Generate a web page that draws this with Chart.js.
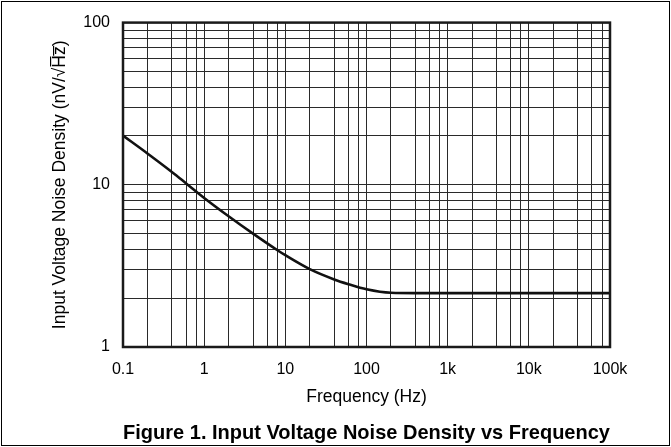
<!DOCTYPE html>
<html>
<head>
<meta charset="utf-8">
<script src="https://cdn.jsdelivr.net/npm/chart.js@4/dist/chart.umd.min.js"></script>
<style>
  html, body { margin: 0; padding: 0; background: #fff; }
  #wrap { width: 671px; height: 447px; position: relative; }
</style>
</head>
<body>
<div id="wrap"><canvas id="noise-chart" width="671" height="447"></canvas></div>
<script>
// data
const freqHz = [0.1, 0.2, 0.4, 0.6, 1, 2, 4, 8, 10, 20, 40, 60, 100, 200, 400, 1000, 10000, 100000];
const noiseDensity = [20.1, 15.6, 12.0, 10.2, 8.3, 6.4, 5.0, 3.95, 3.68, 3.02, 2.61, 2.44, 2.27, 2.16, 2.15, 2.15, 2.15, 2.15];

// tick labels / grid positions
const xDecades = [0.1, 1, 10, 100, 1000, 10000, 100000];
const xDecadeLabels = ['0.1', '1', '10', '100', '1k', '10k', '100k'];
const xMinorSteps = [2, 4, 6, 8];
const yDecades = [1, 10, 100];
const yDecadeLabels = ['1', '10', '100'];
const yMinorSteps = [2, 3, 4, 5, 6, 7, 8, 9];

const FONT = 'Liberation Sans, Arial, Helvetica, sans-serif';

function gridValues(decades, steps) {
    const vals = [];
    decades.forEach((d, i) => {
        vals.push(d);
        if (i < decades.length - 1) steps.forEach(s => vals.push(+(d * s).toPrecision(6)));
    });
    return vals;
}

// frame around the plot + outer border of the figure
const framePlugin = {
    id: 'frame',
    afterDraw(chart) {
        const { ctx, chartArea: a } = chart;
        ctx.save();
        ctx.strokeStyle = '#1a1a1a';
        ctx.lineWidth = 2.5;
        ctx.strokeRect(a.left, a.top, a.right - a.left, a.bottom - a.top);
        ctx.strokeStyle = '#000';
        ctx.lineWidth = 1;
        ctx.strokeRect(1.5, 1.5, chart.width - 3, chart.height - 3);
        ctx.restore();
    }
};

const ctx = document.getElementById('noise-chart').getContext('2d');
new Chart(ctx, {
    type: 'line',
    data: {
        datasets: [{
            label: 'Input Voltage Noise Density',
            data: freqHz.map((f, i) => ({ x: f, y: noiseDensity[i] })),
            borderColor: '#111',
            borderWidth: 2.6,
            pointRadius: 0,
            fill: false,
            cubicInterpolationMode: 'monotone'
        }]
    },
    options: {
        responsive: false,
        animation: false,
        layout: { padding: { left: 0, top: 18, right: 61, bottom: 0 } },
        plugins: {
            legend: { display: false },
            tooltip: { enabled: false },
            title: {
                display: true,
                position: 'bottom',
                fullSize: false,
                text: 'Figure 1. Input Voltage Noise Density vs Frequency',
                color: '#000',
                font: { family: FONT, size: 21, weight: 'bold' },
                padding: { top: 0, bottom: 1.4 }
            }
        },
        scales: {
            x: {
                type: 'logarithmic',
                min: 0.1,
                max: 100000,
                afterBuildTicks: s => { s.ticks = gridValues(xDecades, xMinorSteps).map(v => ({ value: v })); },
                afterFit: s => { s.height = 73.4; },
                ticks: {
                    autoSkip: false,
                    maxRotation: 0,
                    padding: 13,
                    color: '#000',
                    font: { family: FONT, size: 16 },
                    callback: v => {
                        const i = xDecades.indexOf(v);
                        return i >= 0 ? xDecadeLabels[i] : '';
                    }
                },
                grid: { color: '#2a2a2a', lineWidth: 1, drawTicks: false },
                border: { display: false },
                title: {
                    display: true,
                    text: 'Frequency (Hz)',
                    color: '#000',
                    font: { family: FONT, size: 17.5 },
                    padding: { top: 0, bottom: 12.5 }
                }
            },
            y: {
                type: 'logarithmic',
                min: 1,
                max: 100,
                afterBuildTicks: s => { s.ticks = gridValues(yDecades, yMinorSteps).map(v => ({ value: v })); },
                afterFit: s => { s.width = 123; },
                ticks: {
                    autoSkip: false,
                    padding: 13,
                    color: '#000',
                    font: { family: FONT, size: 16 },
                    callback: v => {
                        const i = yDecades.indexOf(v);
                        return i >= 0 ? yDecadeLabels[i] : '';
                    }
                },
                grid: { color: '#2a2a2a', lineWidth: 1, drawTicks: false },
                border: { display: false },
                title: {
                    display: true,
                    text: 'Input Voltage Noise Density (nV/\u221AH\u0305z\u0305)',
                    color: '#000',
                    font: { family: FONT, size: 17.5 },
                    padding: { top: 49.5, bottom: 0 }
                }
            }
        }
    },
    plugins: [framePlugin]
});
</script>
</body>
</html>
